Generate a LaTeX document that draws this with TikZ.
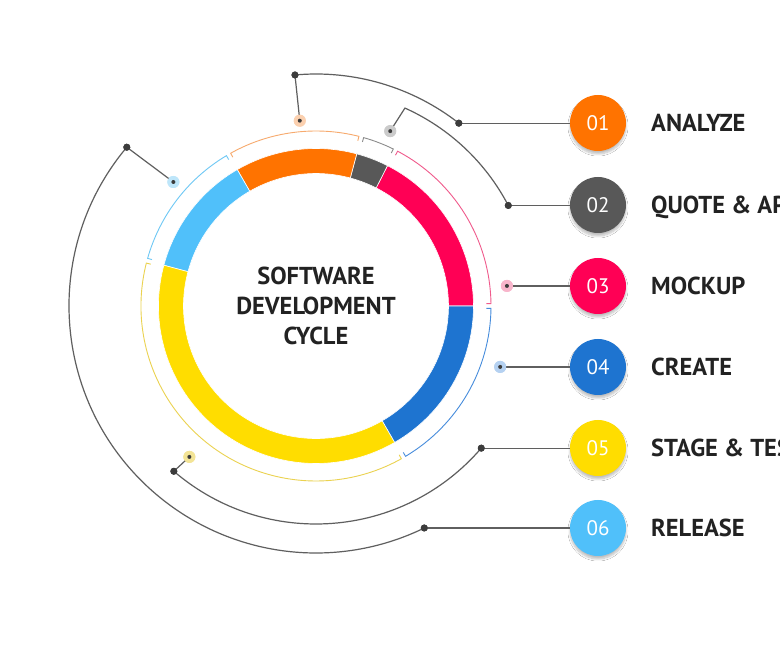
\documentclass[tikz,border=0pt]{standalone}
\usepackage{fontspec}
\setmainfont{PT Sans}
\usetikzlibrary{shadows.blur}
\definecolor{cOrange}{RGB}{255,115,0}
\definecolor{cGray}{RGB}{88,88,88}
\definecolor{cRed}{RGB}{255,0,85}
\definecolor{cBlue}{RGB}{30,116,208}
\definecolor{cYellow}{RGB}{255,221,0}
\definecolor{cSky}{RGB}{80,192,250}
\definecolor{bOrange}{RGB}{247,170,110}
\definecolor{bGray}{RGB}{140,140,140}
\definecolor{bRed}{RGB}{240,90,140}
\definecolor{bBlue}{RGB}{70,140,220}
\definecolor{bYellow}{RGB}{235,210,80}
\definecolor{bSky}{RGB}{110,200,245}
\definecolor{cLine}{RGB}{95,95,95}
\definecolor{cDot}{RGB}{60,60,60}
\definecolor{cText}{RGB}{34,34,34}
\begin{document}
\begin{tikzpicture}[x=1pt,y=1pt,
  conn/.style={draw=cLine, line width=1.2pt},
  kdot/.style={circle, fill=cDot, minimum size=7pt, inner sep=0pt},
  halo/.style={circle, fill=#1, minimum size=12pt, inner sep=0pt},
  stepcircle/.style={circle, fill=#1, minimum size=56pt, inner sep=0pt,
     text=white, font=\fontsize{21}{21}\selectfont,
     blur shadow={shadow xshift=0pt, shadow yshift=-3pt, shadow opacity=25, shadow blur steps=8}},
  steplabel/.style={anchor=west, text=cText, font=\bfseries\fontsize{24.5}{24.5}\selectfont,
     text height=17pt, text depth=0pt, inner sep=0pt},
  bracket/.style={draw=#1, line width=0.9pt}
]
\useasboundingbox (-316,-344) rectangle (464,306);
\clip (-316,-344) rectangle (464,306);
\fill[white] (-316,-344) rectangle (464,306);

% ring segments
\foreach \a/\b/\c in {0/63/cRed, 63/75/cGray, 75/120/cOrange, 120/165/cSky, 165/300/cYellow, 300/360/cBlue}
  \fill[\c, draw=white, line width=0.6pt] (\a:157.5pt) arc[start angle=\a, end angle=\b, radius=157.5pt]
     -- (\b:132.5pt) arc[start angle=\b, end angle=\a, radius=132.5pt] -- cycle;

% brackets
\foreach \a/\b/\c in {0/63/bRed, 63/75/bGray, 75/120/bOrange, 120/165/bSky, 165/300/bYellow, 300/360/bBlue}
  \draw[bracket=\c] ({\a+0.8}:170.5pt) -- ({\a+0.8}:175pt)
     arc[start angle={\a+0.8}, end angle={\b-0.8}, radius=175pt] -- ({\b-0.8}:170.5pt);

% centre text
\node[align=center, text=cText, font=\bfseries\fontsize{24.5}{30}\selectfont] (title) at (0,0)
  {SOFTWARE\\DEVELOPMENT\\CYCLE};

% step circles and labels
\node[stepcircle=cOrange] (n1) at (282,183) {01};
\node[stepcircle=cGray]   (n2) at (282,101) {02};
\node[stepcircle=cRed]    (n3) at (282,20)  {03};
\node[stepcircle=cBlue]   (n4) at (282,-61) {04};
\node[stepcircle=cYellow] (n5) at (282,-142) {05};
\node[stepcircle=cSky]    (n6) at (282,-222) {06};
\node[steplabel] (l1) at (335,183) {ANALYZE};
\node[steplabel] (l2) at (335,101) {QUOTE \& APPROVE};
\node[steplabel] (l3) at (335,20)  {MOCKUP};
\node[steplabel] (l4) at (335,-61) {CREATE};
\node[steplabel] (l5) at (335,-142) {STAGE \& TEST};
\node[steplabel] (l6) at (335,-222) {RELEASE};

% halo dots on the brackets
\node[halo=bOrange!55] (h1) at (95:186pt) {};
\node[halo=bGray!45]   (h2) at (67:190pt) {};
\node[halo=bRed!45]    (h3) at (6:192pt) {};
\node[halo=bBlue!40]   (h4) at (-18.3:194pt) {};
\node[halo=bYellow!60] (h5) at (-130:197pt) {};
\node[halo=bSky!45]    (h6) at (139:189pt) {};

% corner and end points
\coordinate (k1) at (95.2:232pt);
\coordinate (k2) at (65.8:217pt);
\coordinate (k5) at (-130.7:218pt);
\coordinate (k6) at (140:247pt);
\node[kdot] (kd1) at (k1) {};
\node[kdot] (kd5) at (k5) {};
\node[kdot] (kd6) at (k6) {};
\node[kdot] (d1) at (52:232pt) {};
\node[kdot] (d2) at (27.6:217pt) {};
\node[kdot] (d5) at (-40.7:218pt) {};
\node[kdot] (d6) at (-64:247pt) {};

% connectors
\draw[conn] (h1.center) -- (k1) arc[start angle=95.2, end angle=52, radius=232pt];
\draw[conn] (d1.center) -- (d1 -| n1.west);
\draw[conn] (h2.center) -- (k2) arc[start angle=65.8, end angle=27.6, radius=217pt];
\draw[conn] (d2.center) -- (d2 -| n2.west);
\draw[conn] (h3.center) -- (h3 -| n3.west);
\draw[conn] (h4.center) -- (h4 -| n4.west);
\draw[conn] (h5.center) -- (k5) arc[start angle=-130.7, end angle=-40.7, radius=218pt];
\draw[conn] (d5.center) -- (d5 -| n5.west);
\draw[conn] (h6.center) -- (k6) arc[start angle=140, end angle=296, radius=247pt];
\draw[conn] (d6.center) -- (d6 -| n6.west);

% dots drawn on top of the connectors
\foreach \n in {kd1,kd5,kd6,d1,d2,d5,d6}
  \fill[cDot] (\n.center) circle[radius=3.5pt];
\foreach \n/\c in {h1/bOrange!55,h2/bGray!45,h3/bRed!45,h4/bBlue!40,h5/bYellow!60,h6/bSky!45}
  {\fill[\c] (\n.center) circle[radius=6pt];
   \fill[cDot] (\n.center) circle[radius=2pt];}
\end{tikzpicture}
\end{document}
